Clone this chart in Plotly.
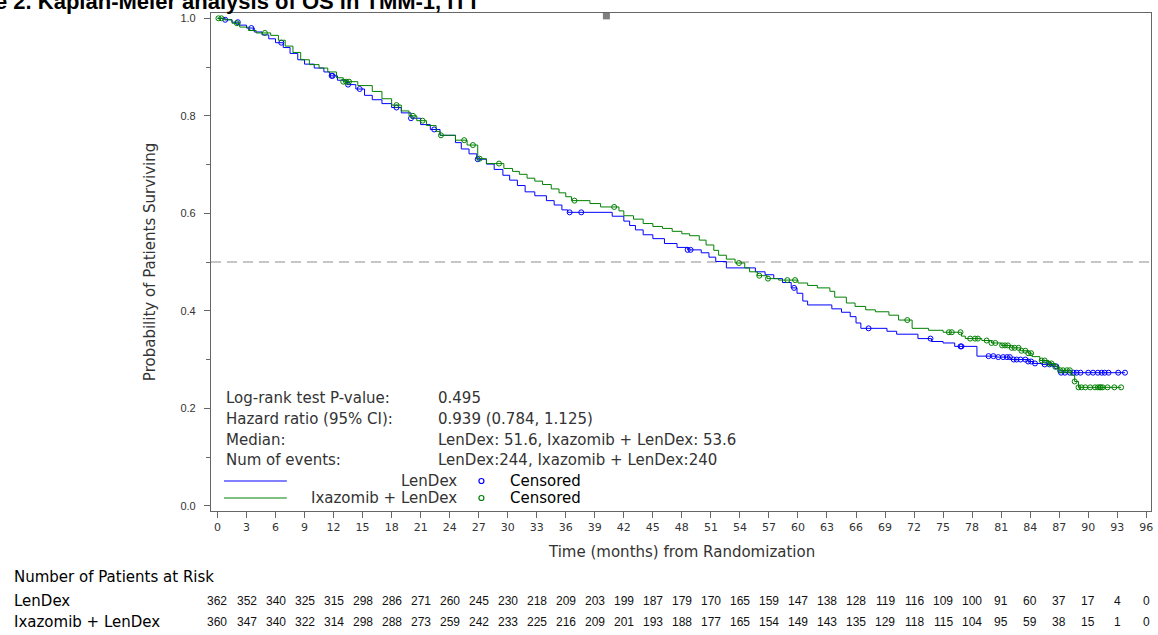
import plotly.graph_objects as go

# ---------------- data ----------------
lendex_event_t = [0.8, 1.5, 2.2, 3.0, 3.8, 4.6, 5.3, 6.0, 6.8, 7.5, 8.3, 9.0, 10.0, 11.0, 11.6,
                  12.4, 13.4, 14.3, 15.2, 16.0, 17.0, 18.0, 19.0, 20.0, 21.0, 22.0, 23.0, 24.6,
                  25.2, 26.0, 26.8, 27.8, 28.6, 29.5, 30.2, 31.0, 31.8, 32.8, 34.0, 34.8, 35.6,
                  36.2, 40.8, 42.0, 42.6, 43.2, 44.0, 45.0, 46.2, 47.5, 48.6, 50.0, 50.8, 51.5,
                  52.6, 55.6, 56.6, 57.5, 58.4, 59.3, 59.9, 60.5, 61.0, 63.5, 64.5, 65.4, 66.0,
                  66.5, 69.2, 70.2, 72.4, 73.8, 75.0, 76.2, 78.5, 80.5, 82.0, 83.8, 84.3, 85.2,
                  86.3, 86.9]
lendex_event_s = [0.997, 0.992, 0.986, 0.980, 0.972, 0.966, 0.958, 0.950, 0.940, 0.928, 0.915,
                  0.906, 0.898, 0.890, 0.882, 0.873, 0.864, 0.855, 0.842, 0.833, 0.825, 0.817,
                  0.806, 0.795, 0.782, 0.772, 0.760, 0.745, 0.732, 0.722, 0.711, 0.701, 0.690,
                  0.678, 0.668, 0.657, 0.644, 0.636, 0.626, 0.617, 0.607, 0.602, 0.594, 0.584,
                  0.575, 0.566, 0.556, 0.548, 0.538, 0.530, 0.525, 0.519, 0.510, 0.501, 0.488,
                  0.480, 0.474, 0.466, 0.458, 0.447, 0.436, 0.420, 0.412, 0.404, 0.397, 0.388,
                  0.375, 0.364, 0.358, 0.352, 0.343, 0.337, 0.334, 0.327, 0.307, 0.305, 0.300,
                  0.296, 0.292, 0.290, 0.286, 0.273]
lendex_cens_t = [0.8, 2.1, 3.5, 6.6, 11.8, 11.9, 13.5, 14.7, 18.5, 20.0, 22.4, 26.9, 36.4, 37.6,
                 48.6, 48.9, 59.6, 67.3, 73.7, 76.8, 76.9, 79.7, 80.2, 80.7, 81.2, 81.6, 81.9,
                 82.3, 82.6, 83.0, 83.5, 83.8, 84.1, 84.5, 85.5, 86.0, 86.7, 87.2, 87.6, 88.1,
                 88.5, 88.8, 89.2, 90.0, 90.5, 91.0, 91.4, 91.7, 92.1, 93.1, 93.8]

ixa_event_t = [0.7, 1.5, 2.3, 3.2, 4.0, 5.5, 6.3, 7.0, 7.8, 8.6, 9.5, 10.5, 11.4, 12.3, 13.0,
               14.5, 16.0, 17.0, 18.0, 19.0, 19.8, 20.6, 21.6, 22.6, 23.0, 24.6, 25.8, 26.9,
               27.8, 29.6, 30.5, 31.2, 32.0, 32.8, 33.6, 34.5, 35.3, 36.0, 36.6, 38.5, 39.6,
               41.5, 42.0, 43.0, 44.0, 45.0, 46.0, 47.0, 48.0, 48.8, 49.8, 50.5, 51.3, 51.8,
               52.6, 53.5, 54.5, 55.0, 55.8, 56.8, 58.0, 60.0, 61.0, 62.0, 63.3, 63.8, 65.0,
               65.9, 67.0, 68.0, 69.4, 70.4, 71.8, 73.5, 75.0, 76.9, 77.3, 79.0, 80.0, 81.0,
               82.0, 83.0, 83.8, 84.2, 85.0, 85.9, 86.6, 87.0, 88.2, 88.6, 89.0]
ixa_event_s = [0.997, 0.990, 0.982, 0.975, 0.970, 0.965, 0.955, 0.943, 0.930, 0.915, 0.905,
               0.898, 0.890, 0.878, 0.870, 0.862, 0.850, 0.835, 0.822, 0.810, 0.800, 0.790,
               0.780, 0.768, 0.760, 0.750, 0.740, 0.712, 0.702, 0.692, 0.686, 0.680, 0.672,
               0.666, 0.659, 0.650, 0.642, 0.634, 0.626, 0.620, 0.613, 0.605, 0.595, 0.588,
               0.579, 0.573, 0.569, 0.563, 0.558, 0.554, 0.545, 0.535, 0.524, 0.514, 0.506,
               0.498, 0.488, 0.480, 0.472, 0.466, 0.463, 0.457, 0.452, 0.447, 0.440, 0.428,
               0.416, 0.409, 0.402, 0.398, 0.391, 0.381, 0.364, 0.360, 0.356, 0.348, 0.343,
               0.339, 0.334, 0.329, 0.324, 0.318, 0.313, 0.306, 0.298, 0.292, 0.285, 0.278,
               0.268, 0.255, 0.243]
ixa_cens_t = [0.1, 0.4, 2.0, 4.9, 13.0, 13.3, 13.6, 18.5, 20.2, 21.2, 23.1, 25.5, 26.4, 27.1,
              29.1, 36.9, 41.0, 53.9, 56.0, 56.9, 58.9, 59.7, 71.3, 75.6, 75.9, 76.8, 77.8,
              78.3, 78.6, 79.5, 80.0, 80.4, 81.1, 81.4, 81.7, 82.1, 82.4, 82.8, 83.1, 83.5,
              83.8, 84.1, 85.2, 85.5, 85.9, 86.2, 86.6, 87.1, 87.4, 87.8, 88.1, 88.6, 89.0,
              89.3, 89.7, 90.2, 90.7, 91.0, 91.2, 91.3, 91.5, 92.0, 92.7, 93.4]

tick_months = list(range(0, 97, 3))
risk_lendex = [362, 352, 340, 325, 315, 298, 286, 271, 260, 245, 230, 218, 209, 203, 199, 187,
               179, 170, 165, 159, 147, 138, 128, 119, 116, 109, 100, 91, 60, 37, 17, 4, 0]
risk_ixa = [360, 347, 340, 322, 314, 298, 288, 273, 259, 242, 233, 225, 216, 209, 201, 193,
            188, 177, 165, 154, 149, 143, 135, 129, 118, 115, 104, 95, 59, 38, 15, 1, 0]

stats_labels = ["Log-rank test P-value:", "Hazard ratio (95% CI):", "Median:", "Num of events:"]
stats_values = ["0.495", "0.939 (0.784, 1.125)", "LenDex: 51.6, Ixazomib + LenDex: 53.6",
                "LenDex:244, Ixazomib + LenDex:240"]
arm_names = ["LenDex", "Ixazomib + LenDex"]
median_ref = 0.5
title_text = "Figure 2. Kaplan-Meier analysis of OS in TMM-1, ITT"
artifact_x = [40.2]
artifact_y = [1.005]

# ---------------- layout constants ----------------
W, H = 1158, 635
ML, MR, MT, MB = 211, 5, 13, 124
PW, PH = W - ML - MR, H - MT - MB
BLUE = "#0000ff"
GREEN = "#008000"
TXT = "#333333"
ROUND = "DejaVu Sans"
ARIAL = "Liberation Sans, Arial"


def px_x(p):
    return (p - ML) / PW


def px_y(p):
    return (MT + PH - p) / PH


def surv_at(ts, ss, t):
    s = 1.0
    for tt, sv in zip(ts, ss):
        if tt <= t:
            s = sv
        else:
            break
    return s


fig = go.Figure()

arms = [
    (arm_names[0], lendex_event_t, lendex_event_s, lendex_cens_t, BLUE),
    (arm_names[1], ixa_event_t, ixa_event_s, ixa_cens_t, GREEN),
]
for name, et, es, ct, col in arms:
    end_t = max(ct[-1], et[-1])
    fig.add_trace(go.Scatter(
        x=[0] + et + [end_t], y=[1.0] + es + [es[-1]],
        mode="lines", line=dict(color=col, width=1, shape="hv"),
        name=name, showlegend=False, hoverinfo="skip"))
    fig.add_trace(go.Scatter(
        x=ct, y=[surv_at(et, es, t) for t in ct], mode="markers",
        marker=dict(symbol="circle-open", size=5, color=col, line=dict(width=1, color=col)),
        showlegend=False, cliponaxis=False, hoverinfo="skip"))

fig.add_trace(go.Scatter(x=artifact_x, y=artifact_y, mode="markers",
                         marker=dict(symbol="square", size=7, color="#808080"),
                         showlegend=False, cliponaxis=False, hoverinfo="skip"))

# median reference line
fig.add_shape(type="line", xref="paper", x0=0, x1=1, yref="y", y0=median_ref, y1=median_ref,
              line=dict(color="#b4b4b4", width=1.5, dash="10px,6px"), layer="below")

ann = []
# title (partially cut off at the top/left, as in the reference)
ann.append(dict(text=f"<b>{title_text}</b>", xref="paper", yref="paper", x=px_x(484),
                y=px_y(16), xanchor="right", yanchor="bottom", showarrow=False,
                font=dict(family=ARIAL, size=22, color="#000000")))
# axis titles
ann.append(dict(text="Probability of Patients Surviving", xref="paper", yref="paper",
                x=px_x(150), y=px_y(262), textangle=-90, xanchor="center", yanchor="middle",
                showarrow=False, font=dict(family=ROUND, size=15, color=TXT)))
ann.append(dict(text="Time (months) from Randomization", xref="paper", yref="paper",
                x=px_x(682), y=px_y(552), xanchor="center", yanchor="middle",
                showarrow=False, font=dict(family=ROUND, size=15, color=TXT)))
# stats block
row_y = [398, 419, 440, 460]
for lab, val, ry in zip(stats_labels, stats_values, row_y):
    ann.append(dict(text=lab, xref="paper", yref="paper", x=px_x(224), y=px_y(ry),
                    xanchor="left", yanchor="middle", showarrow=False,
                    font=dict(family=ROUND, size=15, color=TXT)))
    ann.append(dict(text=val, xref="paper", yref="paper", x=px_x(436), y=px_y(ry),
                    xanchor="left", yanchor="middle", showarrow=False,
                    font=dict(family=ROUND, size=15, color=TXT)))
# legend
leg_y = [481, 498]
for (name, _, _, _, col), ly in zip(arms, leg_y):
    fig.add_shape(type="line", xref="paper", yref="paper", x0=px_x(224), x1=px_x(287),
                  y0=px_y(ly), y1=px_y(ly), line=dict(color=col, width=1))
    ann.append(dict(text=name, xref="paper", yref="paper", x=px_x(460), y=px_y(ly),
                    xanchor="right", yanchor="middle", showarrow=False,
                    font=dict(family=ROUND, size=15, color=TXT)))
    fig.add_shape(type="circle", xref="paper", yref="paper", xsizemode="pixel",
                  ysizemode="pixel", xanchor=px_x(482), yanchor=px_y(ly),
                  x0=-2.5, x1=2.5, y0=-2.5, y1=2.5, line=dict(color=col, width=1.2))
    ann.append(dict(text="Censored", xref="paper", yref="paper", x=px_x(509), y=px_y(ly),
                    xanchor="left", yanchor="middle", showarrow=False,
                    font=dict(family=ROUND, size=15, color="#000000")))
# risk table
ann.append(dict(text="Number of Patients at Risk", xref="paper", yref="paper", x=px_x(12),
                y=px_y(577), xanchor="left", yanchor="middle", showarrow=False,
                font=dict(family=ROUND, size=15, color="#000000")))
risk_rows = [(arm_names[0], risk_lendex, 601), (arm_names[1], risk_ixa, 622)]
for name, vals, ry in risk_rows:
    ann.append(dict(text=name, xref="paper", yref="paper", x=px_x(12), y=px_y(ry),
                    xanchor="left", yanchor="middle", showarrow=False,
                    font=dict(family=ROUND, size=15, color="#000000")))
    for m, v in zip(tick_months, vals):
        ann.append(dict(text=str(v), xref="x", yref="paper", x=m, y=px_y(ry),
                        xanchor="center", yanchor="middle", showarrow=False,
                        font=dict(family=ARIAL, size=12, color="#111111")))

fig.update_layout(
    width=W, height=H,
    margin=dict(l=ML, r=MR, t=MT, b=MB, pad=0),
    paper_bgcolor="white", plot_bgcolor="white",
    showlegend=False,
    annotations=ann,
    xaxis=dict(range=[-0.67, 96.49], tickmode="array", tickvals=tick_months,
               ticktext=[str(m) for m in tick_months], ticks="outside", ticklen=6,
               tickcolor="#666666", showline=True, linecolor="#666666", linewidth=1.2,
               mirror=True, showgrid=False, zeroline=False,
               tickfont=dict(family=ROUND, size=11, color=TXT)),
    yaxis=dict(range=[-0.0107, 1.0109], tick0=0, dtick=0.2, tickformat=".1f",
               ticks="outside", ticklen=6, tickcolor="#666666", showline=True,
               linecolor="#666666", linewidth=1.2, mirror=True, showgrid=False,
               zeroline=False, ticklabelstandoff=6,
               minor=dict(dtick=0.1, tick0=0, ticks="outside", ticklen=4,
                          tickcolor="#666666", showgrid=False),
               tickfont=dict(family=ARIAL, size=11, color=TXT)),
)

fig.write_html("out.html")
